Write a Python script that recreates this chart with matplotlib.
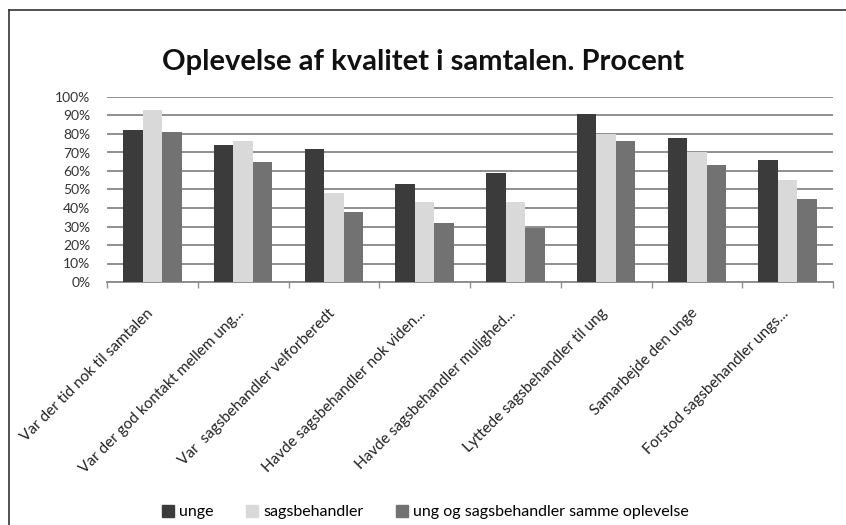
import matplotlib
matplotlib.use("Agg")
import matplotlib.pyplot as plt
from matplotlib.lines import Line2D
import numpy as np

plt.rcParams["font.family"] = ["Lato", "DejaVu Sans"]

categories = [
    "Var der tid nok til samtalen",
    "Var der god kontakt mellem ung...",
    "Var  sagsbehandler velforberedt",
    "Havde sagsbehandler nok viden...",
    "Havde sagsbehandler mulighed...",
    "Lyttede sagsbehandler til ung",
    "Samarbejde den unge",
    "Forstod sagsbehandler ungs...",
]
unge = [82, 74, 72, 53, 59, 91, 78, 66]
sagsbehandler = [93, 76, 48, 43, 43, 80, 70, 55]
samme = [81, 65, 38, 32, 29, 76, 63, 45]
series_names = ["unge", "sagsbehandler", "ung og sagsbehandler samme oplevelse"]
colors = ["#3b3b3b", "#d9d9d9", "#727272"]

fig = plt.figure(figsize=(8.46, 5.25), dpi=100)
ax = fig.add_axes([107 / 846, 1 - 282 / 525, (833 - 107) / 846, (282 - 97) / 525])

x = np.arange(len(categories))
w = 0.215
for i, (vals, col, name) in enumerate(zip([unge, sagsbehandler, samme], colors, series_names)):
    ax.bar(x + (i - 1) * w, vals, width=w, color=col, label=name, zorder=3)

ax.set_xlim(-0.5, len(categories) - 0.5)
ax.set_ylim(0, 100)
ax.set_yticks(range(0, 101, 10))
ax.set_yticklabels([f"{v}%" for v in range(0, 101, 10)], fontsize=10, color="#333333")
ax.yaxis.grid(True, color="#8f8f8f", linewidth=1.4, zorder=0)
ax.tick_params(axis="y", length=0, pad=12)

ax.set_xticks(x)
ax.set_xticklabels([])
ax.tick_params(axis="x", which="major", length=0)
ax.set_xticks(np.arange(-0.5, len(categories)), minor=True)
ax.tick_params(axis="x", which="minor", length=4, color="#8f8f8f", width=1)

for s in ["top", "right", "left"]:
    ax.spines[s].set_visible(False)
ax.spines["bottom"].set_color("#8f8f8f")
ax.spines["bottom"].set_linewidth(1.4)

for xi, lab in zip(x, categories):
    ax.annotate(lab, xy=(xi, 0), xycoords="data", xytext=(-1, -21), textcoords="offset points",
                rotation=45, ha="right", va="center", rotation_mode="anchor",
                fontsize=11, color="#222222")

fig.text(0.5, 1 - 62 / 525, "Oplevelse af kvalitet i samtalen. Procent",
         ha="center", va="center", fontsize=21, fontweight="bold", color="#111111")

handles = [Line2D([], [], marker="s", linestyle="", markersize=8, color=c) for c in colors]
fig.legend(handles, series_names, loc="center", bbox_to_anchor=(425 / 846, 1 - 512 / 525),
           ncol=3, frameon=False, fontsize=11.5, handletextpad=0.3, columnspacing=2.0,
           handlelength=0.8)

fig.add_artist(Line2D([9 / 846, 9 / 846], [0, 1 - 10 / 525], color="#333333", linewidth=1.2))
fig.add_artist(Line2D([9 / 846, 1], [1 - 10 / 525, 1 - 10 / 525], color="#333333", linewidth=1.2))

fig.savefig("out.png", dpi=100, facecolor="white")
